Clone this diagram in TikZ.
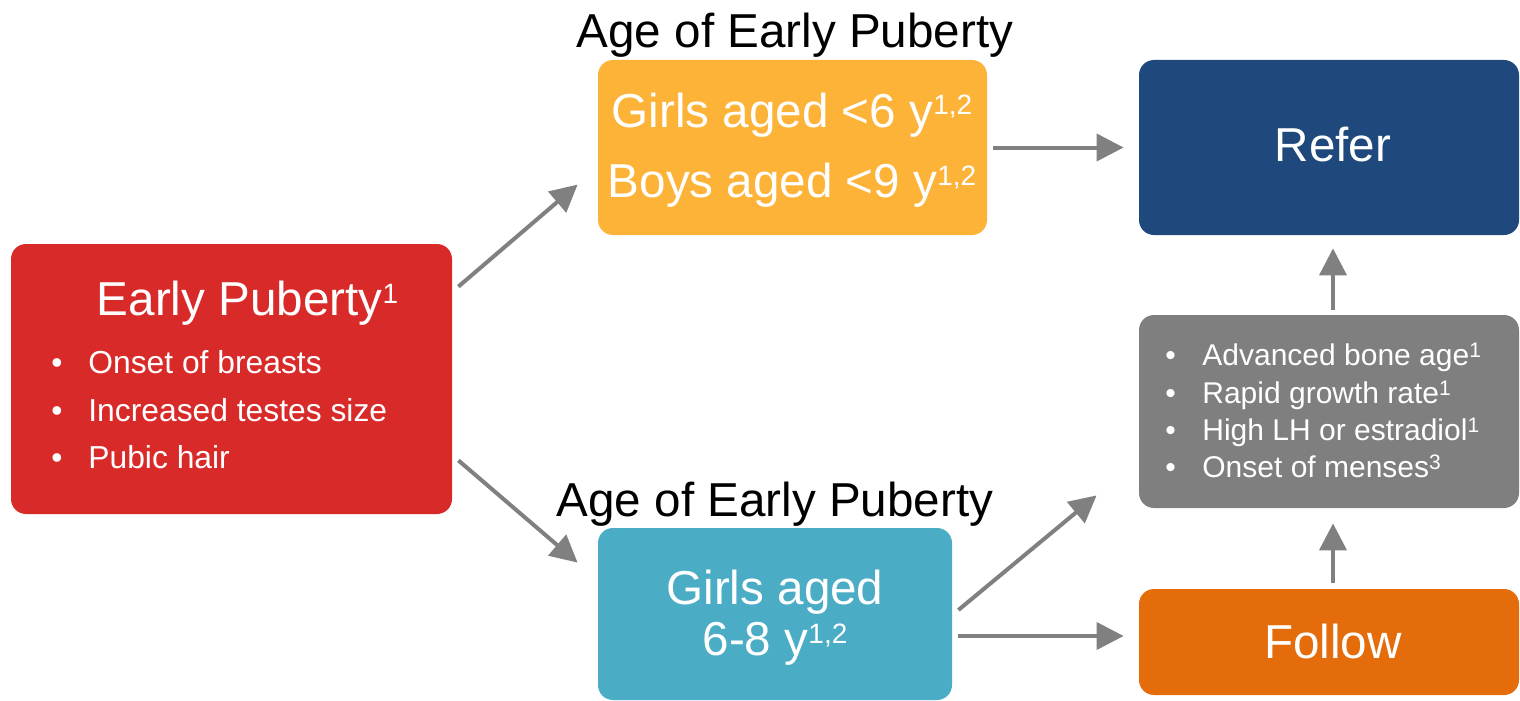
\documentclass[tikz,border=0pt]{standalone}
\usepackage{fontspec}
\setmainfont{Liberation Sans}
\usetikzlibrary{arrows.meta,calc}
\definecolor{cred}{HTML}{D92A2A}
\definecolor{cyel}{HTML}{FDB338}
\definecolor{cblue}{HTML}{1F497D}
\definecolor{cgray}{HTML}{7F7F7F}
\definecolor{cteal}{HTML}{4BACC6}
\definecolor{corange}{HTML}{E46C0A}
\definecolor{carrow}{HTML}{808080}
\newcommand\bigsup[1]{\raisebox{6pt}{\fontsize{14}{14}\selectfont #1}}
\newcommand\smallsup[1]{\raisebox{4pt}{\fontsize{10.5}{10.5}\selectfont #1}}
\begin{document}
\begin{tikzpicture}[x=0.5pt,y=-0.5pt,
  box/.style={rounded corners=7.5pt, inner sep=0pt, draw=none},
  big/.style={font=\fontsize{23.8}{28}\selectfont, inner sep=0pt, anchor=base},
  redbul/.style={font=\fontsize{15.9}{19}\selectfont, inner sep=0pt, anchor=base west, text=white},
  graybul/.style={font=\fontsize{15}{18}\selectfont, inner sep=0pt, anchor=base west, text=white},
  arr/.style={draw=carrow, line width=2pt, -{Triangle[length=13.5pt,width=13.5pt]}}]
\useasboundingbox (0,0) rectangle (1520,701);
% boxes
\node[box, fill=cred, minimum width=220.5pt, minimum height=135pt] (red) at (231.5,379) {};
\node[box, fill=cyel, minimum width=194.5pt, minimum height=87.5pt] (yellow) at (792.5,147.5) {};
\node[box, fill=cblue, minimum width=190pt, minimum height=87.5pt] (refer) at (1329,147.5) {};
\node[box, fill=cgray, minimum width=190pt, minimum height=96.5pt] (gray) at (1329,411.5) {};
\node[box, fill=corange, minimum width=190pt, minimum height=53pt] (follow) at (1329,642) {};
\node[box, fill=cteal, minimum width=177pt, minimum height=86pt] (teal) at (775,614) {};
% titles
\node[big] (title1) at (795,48) {Age of Early Puberty};
\node[big] (title2) at (775,516) {Age of Early Puberty};
% red box text
\node[big, text=white] (redtitle) at (247.5,315) {Early Puberty\bigsup{1}};
\node[redbul] (rb1) at (51,373) {\makebox[18.5pt][l]{•}Onset of breasts};
\node[redbul] (rb2) at (51,421) {\makebox[18.5pt][l]{•}Increased testes size};
\node[redbul] (rb3) at (51,468) {\makebox[18.5pt][l]{•}Pubic hair};
% yellow text
\node[big, text=white] (y1) at (792,127) {Girls aged <6 y\bigsup{1,2}};
\node[big, text=white] (y2) at (792,198) {Boys aged <9 y\bigsup{1,2}};
% refer / follow
\node[big, text=white] (refertxt) at (1333,162) {Refer};
\node[big, text=white] (followtxt) at (1333,658) {Follow};
% teal text
\node[big, text=white] (t1) at (775,604) {Girls aged};
\node[big, text=white] (t2) at (775,655) {6-8 y\bigsup{1,2}};
% gray bullets
\node[graybul] (gb1) at (1165,365) {\makebox[18.5pt][l]{•}Advanced bone age\smallsup{1}};
\node[graybul] (gb2) at (1165,403) {\makebox[18.5pt][l]{•}Rapid growth rate\smallsup{1}};
\node[graybul] (gb3) at (1165,440) {\makebox[18.5pt][l]{•}High LH or estradiol\smallsup{1}};
\node[graybul] (gb4) at (1165,477) {\makebox[18.5pt][l]{•}Onset of menses\smallsup{3}};
% arrows
\draw[arr] ([shift={(6,43)}]red.north east) -- ([shift={(-20,125)}]yellow.north west);
\draw[arr] ([shift={(6,-54)}]red.south east) -- ([shift={(-20,35)}]teal.north west);
\draw[arr] ([shift={(6,0)}]yellow.east) -- ([shift={(-15,0)}]refer.west);
\draw[arr] ([shift={(6,-4)}]teal.east) -- ([shift={(-42,-13)}]gray.south west);
\draw[arr] ([shift={(6,22)}]teal.east) -- ([shift={(-15,-6)}]follow.west);
\draw[arr] ([shift={(4,-6)}]follow.north) -- ([shift={(4,15)}]gray.south);
\draw[arr] ([shift={(4,-5)}]gray.north) -- ([shift={(4,13)}]refer.south);
\end{tikzpicture}
\end{document}
